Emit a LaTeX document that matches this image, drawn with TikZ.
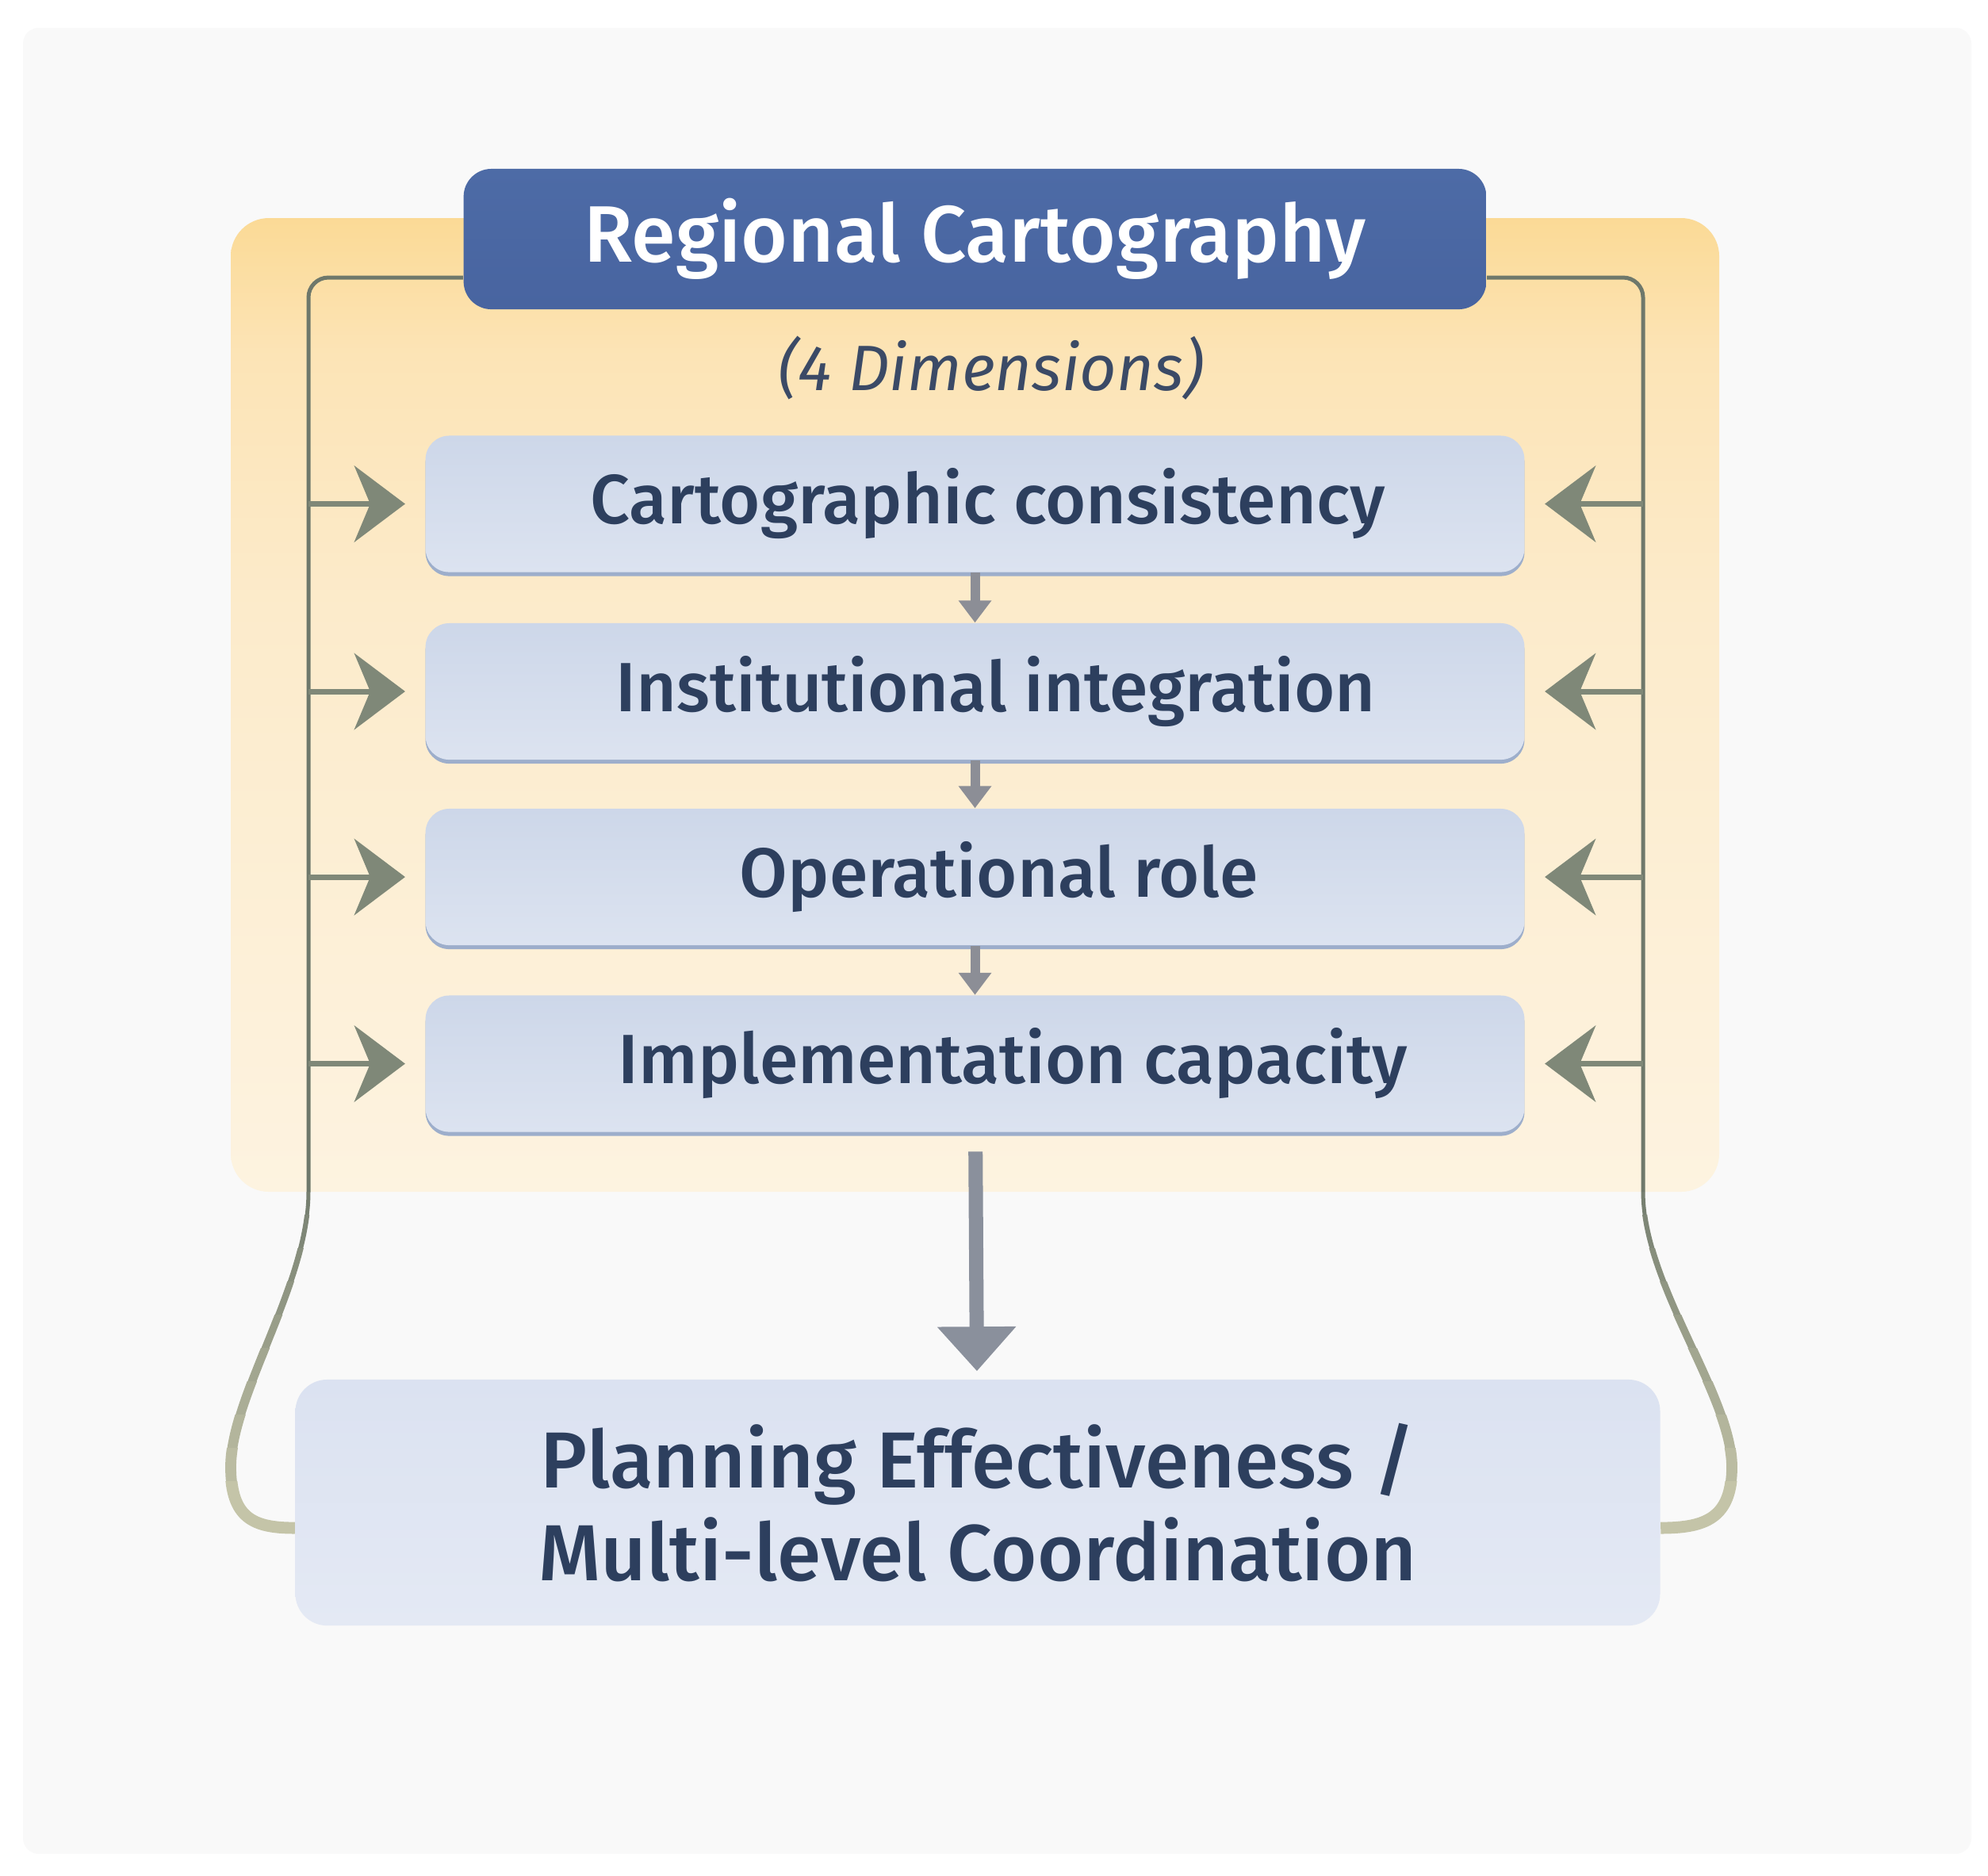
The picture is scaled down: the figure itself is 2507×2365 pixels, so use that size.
\documentclass[tikz,border=0pt]{standalone}
\usepackage{fontspec}
\setmainfont{Fira Sans}
\newfontfamily\medfont{Fira Sans Medium}
\usetikzlibrary{arrows.meta, shadows}

\definecolor{pagegray}{HTML}{F9F9F9}
\definecolor{paneltop}{HTML}{FBDA96}
\definecolor{panelhigh}{HTML}{FCE4B6}
\definecolor{panelmid}{HTML}{FCEBCB}
\definecolor{panelbot}{HTML}{FDF3E0}
\definecolor{titleblue}{HTML}{4D6BA6}
\definecolor{titledark}{HTML}{4864A0}
\definecolor{boxtop}{HTML}{CDD7E9}
\definecolor{boxbot}{HTML}{DCE3F0}
\definecolor{boxedge}{HTML}{9DAECB}
\definecolor{outtop}{HTML}{DBE2F1}
\definecolor{outbot}{HTML}{E4E9F4}
\definecolor{inkblue}{HTML}{2D3F5E}
\definecolor{dimink}{HTML}{3B4A66}
\definecolor{busgreen}{HTML}{6E786B}
\definecolor{arrowgreen}{HTML}{7F8878}
\definecolor{loopfade}{HTML}{C4C4A8}
\definecolor{stepgray}{HTML}{8C8E96}
\definecolor{biggray}{HTML}{8A909C}

\pgfdeclareverticalshading{panelshade}{100bp}{color(0bp)=(panelbot); color(25bp)=(panelbot);
    color(55bp)=(panelmid); color(68bp)=(panelhigh); color(75bp)=(paneltop); color(100bp)=(paneltop)}

\begin{document}
\begin{tikzpicture}[x=0.01cm, y=-0.01cm,
    titlebox/.style={rounded corners=0.35cm, minimum width=12.89cm, minimum height=1.77cm,
        top color=titleblue, bottom color=titledark, text=white,
        font=\medfont\fontsize{28.7}{34}\selectfont},
    dimbox/.style={rounded corners=0.3cm, minimum width=13.85cm, minimum height=1.72cm,
        top color=boxtop, bottom color=boxbot, text=inkblue,
        drop shadow={shadow xshift=0cm, shadow yshift=-0.05cm, fill=boxedge, opacity=1},
        font=\medfont\fontsize{25}{30}\selectfont},
    outbox/.style={rounded corners=0.4cm, minimum width=17.2cm, minimum height=3.1cm,
        top color=outtop, bottom color=outbot, text=inkblue, align=center,
        font=\medfont\fontsize{28.5}{33.2}\selectfont},
    busline/.style={draw=busgreen, line width=0.05cm},
    sidein/.style={draw=arrowgreen, line width=0.07cm, shorten >=0.25cm,
        -{Stealth[length=0.64cm, width=0.96cm, inset=0.2cm]}},
    stepdown/.style={draw=stepgray, line width=0.12cm, -{Triangle[length=0.28cm, width=0.4cm]}},
    bigdown/.style={draw=biggray, line width=0.18cm, shorten <=0.24cm, shorten >=0.1cm,
        -{Triangle[length=0.56cm, width=0.96cm]}}]
    \useasboundingbox (0,0) rectangle (2507,2365);

    %---------------- Backdrop ----------------%
    \fill[white] (0,0) rectangle (2507,2365);
    \fill[pagegray, rounded corners=0.2cm] (29,35) rectangle (2486,2338);
    \shade[rounded corners=0.48cm, shading=panelshade] (291,275) rectangle (2168,1503);

    %---------------- Nodes ----------------%
    \node[titlebox] (title) at (1229.5,301.5) {Regional Cartography};
    \node[text=dimink, font=\itshape\fontsize{23}{27}\selectfont] (dims) at (1250,464) {(4 Dimensions)};
    \node[dimbox] (dim1) at (1229.5,635.5) {\hspace*{0.32cm}Cartographic consistency};
    \node[dimbox] (dim2) at (1229.5,872) {\hspace*{0.52cm}Institutional integration};
    \node[dimbox] (dim3) at (1229.5,1106) {\hspace*{0.6cm}Operational role};
    \node[dimbox] (dim4) at (1229.5,1341.5) {\hspace*{0.96cm}Implementation capacity};
    \node[outbox] (outcome) at (1233,1895) {Planning Effectiveness /\\Multi-level Coordination};

    \coordinate (lbus) at (389,350);
    \coordinate (rbus) at (2072,350);
    \coordinate (lbot) at (389,1503);
    \coordinate (rbot) at (2072,1503);

    %---------------- Feedback loops ----------------%
    % thicker and paler towards the outcome box
    \foreach \i in {0,...,9} {
        \pgfmathsetmacro\ya{1490+42*\i}
        \pgfmathsetmacro\yb{\i==9 ? 2000 : \ya+43}
        \pgfmathsetmacro\w{0.05+0.011*\i}
        \pgfmathsetmacro\c{90-10*\i}
        \begin{scope}
            \clip (0,\ya) rectangle (2507,\yb);
            \draw[draw=busgreen!\c!loopfade, line width=\w cm]
                (lbot) .. controls (389,1620) and (291,1760) .. (291,1850)
                .. controls (291,1915) and (320,1927) .. ([yshift=-0.32cm]outcome.west);
            \draw[draw=busgreen!\c!loopfade, line width=\w cm]
                (rbot) .. controls (2072,1620) and (2184,1760) .. (2184,1850)
                .. controls (2184,1915) and (2150,1927) .. ([yshift=-0.32cm]outcome.east);
        \end{scope}
    }
    \draw[busline, rounded corners=0.25cm] ([yshift=-0.485cm]title.west) -| (lbot);
    \draw[busline, rounded corners=0.25cm] ([yshift=-0.485cm]title.east) -| (rbot);

    % side arrows into each dimension
    \foreach \d in {dim1, dim2, dim3, dim4} {
        \draw[sidein] (\d.west -| lbus) -- (\d.west);
        \draw[sidein] (\d.east -| rbus) -- (\d.east);
    }

    %---------------- Chain ----------------%
    \draw[stepdown] (dim1) -- (dim2);
    \draw[stepdown] (dim2) -- (dim3);
    \draw[stepdown] (dim3) -- (dim4);
    \draw[bigdown] (dim4) -- (outcome);
\end{tikzpicture}
\end{document}
